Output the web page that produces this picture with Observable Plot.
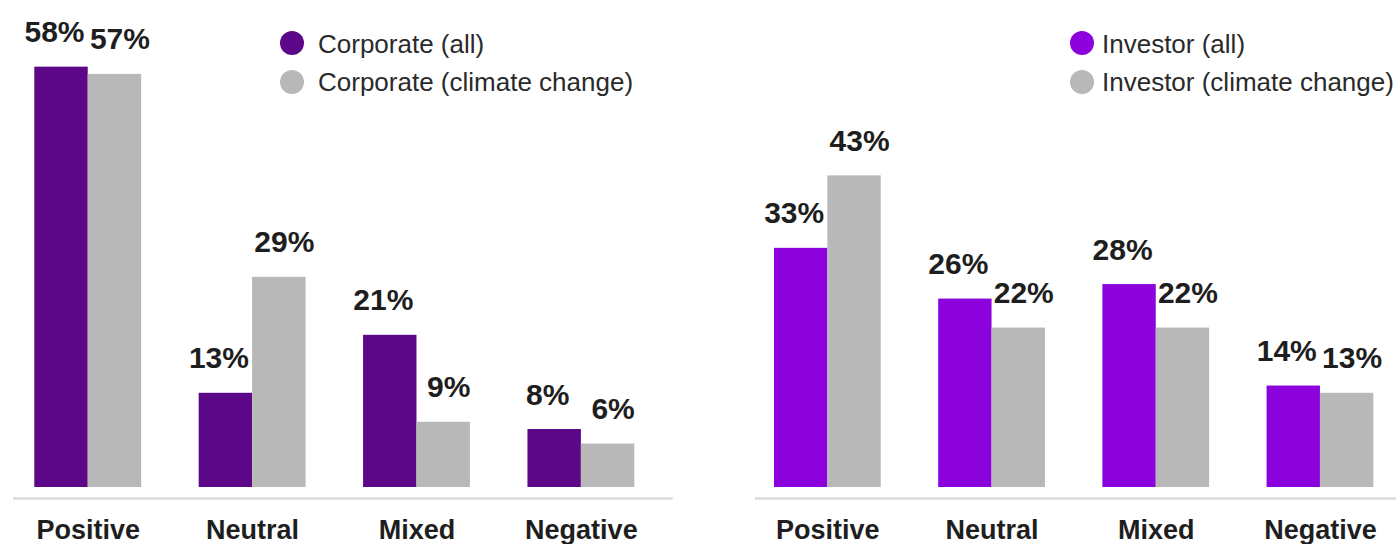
<!DOCTYPE html>
<html>
<head>
<meta charset="utf-8">
<script src="https://cdn.jsdelivr.net/npm/d3@7"></script>
<script src="https://cdn.jsdelivr.net/npm/@observablehq/plot@0.6"></script>
<style>
  html, body { margin: 0; padding: 0; background: #ffffff; }
  #chart { position: relative; width: 1396px; height: 544px; overflow: hidden; font-family: "Liberation Sans", Arial, sans-serif; }
  .panel { position: absolute; top: 0; }
  .legend { position: absolute; font-size: 26px; line-height: 26px; color: #2a2a2a; white-space: nowrap; }
  .legend .row { position: absolute; left: 0; white-space: nowrap; }
  .legend .swatch { position: absolute; width: 24px; height: 24px; border-radius: 50%; }
</style>
</head>
<body>
<div id="chart"></div>
<script>
// Sentiment categories along the x axis
const categories = ["Positive", "Neutral", "Mixed", "Negative"];

// Share of coverage (%) by sentiment
const corporateAll = [58, 13, 21, 8];
const corporateClimate = [57, 29, 9, 6];
const investorAll = [33, 26, 28, 14];
const investorClimate = [43, 22, 22, 13];

// Series names shown in the legends
const corporateSeries = ["Corporate (all)", "Corporate (climate change)"];
const investorSeries = ["Investor (all)", "Investor (climate change)"];

const GRAY = "#b8b8b8";
const PANEL_W = 698;
const PADDING_INNER = 0.35;

function drawPanel({all, climate, series, color, marginLeft, marginRight, ruleInsetLeft, ruleInsetRight}) {
  const rows = categories.flatMap((c, i) => [
    {category: c, series: series[0], value: all[i]},
    {category: c, series: series[1], value: climate[i]}
  ]);
  const first = rows.filter(d => d.series === series[0]);
  const second = rows.filter(d => d.series === series[1]);

  // half of each category band: one bar per series, side by side
  const inner = PANEL_W - marginLeft - marginRight;
  const step = inner / (categories.length - PADDING_INNER);
  const half = step * (1 - PADDING_INNER) / 2;

  const labelOpts = {
    x: "category", y: "value", text: d => d.value + "%",
    lineAnchor: "bottom", dy: -25, fontSize: 30, fontWeight: "bold", fill: "#1e1e1e"
  };

  return Plot.plot({
    width: PANEL_W,
    height: 544,
    marginTop: 0,
    marginBottom: 57,
    marginLeft,
    marginRight,
    x: {domain: categories, paddingInner: PADDING_INNER, paddingOuter: 0, round: false, label: null},
    y: {domain: [0, 67.2], axis: null},
    style: {fontFamily: "'Liberation Sans', Arial, sans-serif", color: "#1e1e1e", background: "transparent", overflow: "visible"},
    marks: [
      Plot.ruleY([0], {dy: 11, stroke: "#dadada", strokeWidth: 2.5, insetLeft: ruleInsetLeft, insetRight: ruleInsetRight}),
      Plot.barY(first, {x: "category", y: "value", fill: color, insetRight: half}),
      Plot.barY(second, {x: "category", y: "value", fill: GRAY, insetLeft: half}),
      // value labels nudged slightly apart so neighbouring labels don't collide
      Plot.text(first, {...labelOpts, dx: -half / 2 - 7}),
      Plot.text(second, {...labelOpts, dx: half / 2 + 5}),
      Plot.axisX({tickSize: 0, tickPadding: 32, fontSize: 27, fontWeight: "bold", label: null})
    ]
  });
}

function legend(series, color, left, textOffset) {
  const el = document.createElement("div");
  el.className = "legend";
  el.style.left = left + "px";
  el.style.top = "0px";
  const centers = [43.3, 81.7];
  series.forEach((name, i) => {
    const sw = document.createElement("div");
    sw.className = "swatch";
    sw.style.background = i === 0 ? color : GRAY;
    sw.style.left = "0px";
    sw.style.top = (centers[i] - 12) + "px";
    el.appendChild(sw);
    const row = document.createElement("div");
    row.className = "row";
    row.textContent = name;
    row.style.left = textOffset + "px";
    row.style.top = (centers[i] - 12.3) + "px";
    el.appendChild(row);
  });
  return el;
}

const chart = document.getElementById("chart");

const left = drawPanel({
  all: corporateAll, climate: corporateClimate, series: corporateSeries, color: "#5b0788",
  marginLeft: 34.3, marginRight: 63.7, ruleInsetLeft: -21.3, ruleInsetRight: -38.4
});
left.classList.add("panel");
left.style.left = "0px";
chart.appendChild(left);

const right = drawPanel({
  all: investorAll, climate: investorClimate, series: investorSeries, color: "#8b02dc",
  marginLeft: 76, marginRight: 22.7, ruleInsetLeft: -19, ruleInsetRight: -23
});
right.classList.add("panel");
right.style.left = PANEL_W + "px";
chart.appendChild(right);

chart.appendChild(legend(corporateSeries, "#5b0788", 280, 38));
chart.appendChild(legend(investorSeries, "#8b02dc", 1070, 32));
</script>
</body>
</html>
